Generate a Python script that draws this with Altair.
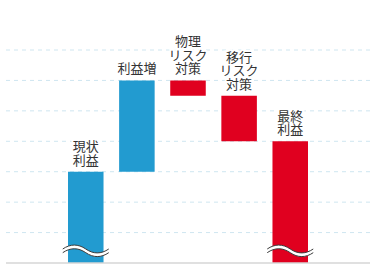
import altair as alt
import pandas as pd

# ---- data ----
labels = ["現状\n利益", "利益増", "物理\nリスク\n対策", "移行\nリスク\n対策", "最終\n利益"]
starts = [0, 3, 6, 5.5, 0]
ends = [3, 6, 5.5, 4, 4]
kinds = ["利益", "利益", "対策", "対策", "対策"]
has_break = [True, False, False, False, True]
break_at = 0.4
grid_values = [1, 2, 3, 4, 5, 6, 7]

df = pd.DataFrame({
    "cat": labels,
    "start": starts,
    "end": ends,
    "top": [max(a, b) for a, b in zip(starts, ends)],
    "kind": kinds,
    "brk": has_break,
    "nlines": [lab.count("\n") + 1 for lab in labels],
})
df["brk_y"] = break_at

FONT = "Noto Sans CJK JP"
TEXT_COLOR = "#333333"
LH = 13.5

x_enc = alt.X(
    "cat:N",
    sort=labels,
    scale=alt.Scale(range=[62, 302], paddingInner=0.305, paddingOuter=0),
    axis=None,
)
x_plain = alt.X("cat:N", sort=labels)
y_scale = alt.Scale(domain=[0, 7], nice=False, zero=True)

base = alt.Chart(df)

grid = alt.Chart(pd.DataFrame({"g": grid_values})).mark_rule(
    color="#cfe6f0", strokeWidth=1, strokeDash=[4, 4]
).encode(y=alt.Y("g:Q", scale=y_scale, axis=None), x=alt.value(0), x2=alt.value(364))

bars = base.mark_bar().encode(
    x=x_enc,
    y=alt.Y("start:Q", scale=y_scale, axis=None),
    y2="end:Q",
    color=alt.Color("kind:N",
                    scale=alt.Scale(domain=["利益", "対策"], range=["#229bd0", "#e0001f"]),
                    legend=None),
)

baseline = alt.Chart(pd.DataFrame({"v": [0]})).mark_rule(
    color="#d6d6d6", strokeWidth=1.5
).encode(y="v:Q", x=alt.value(0), x2=alt.value(364))

text_layers = []
for n in (1, 2, 3):
    dy = -4 - (n - 1) * LH
    sub = base.transform_filter(f"datum.nlines == {n}")
    text_layers.append(sub.mark_text(
        font=FONT, fontSize=13, lineBreak="\n", lineHeight=LH, baseline="bottom",
        dy=dy, fill="white", stroke="white", strokeWidth=4,
    ).encode(x=x_plain, y="top:Q", text="cat:N"))
    text_layers.append(sub.mark_text(
        font=FONT, fontSize=13, lineBreak="\n", lineHeight=LH, baseline="bottom",
        dy=dy, color=TEXT_COLOR,
    ).encode(x=x_plain, y="top:Q", text="cat:N"))

fill_path = ("M -1 -0.08 C -0.67 -0.307 -0.33 -0.307 0 -0.08 C 0.33 0.147 0.67 0.147 1 -0.08 "
             "L 1 0.08 C 0.67 0.307 0.33 0.307 0 0.08 C -0.33 -0.147 -0.67 -0.147 -1 0.08 Z")
line_path = ("M -1 -0.08 C -0.67 -0.307 -0.33 -0.307 0 -0.08 C 0.33 0.147 0.67 0.147 1 -0.08 "
             "M -1 0.08 C -0.67 -0.147 -0.33 -0.147 0 0.08 C 0.33 0.307 0.67 0.307 1 0.08")

brk_fill = base.transform_filter("datum.brk").mark_point(
    shape=fill_path, size=2116, filled=True, fill="white", opacity=1, strokeWidth=0,
).encode(x=x_plain, y="brk_y:Q")

brk_line = base.transform_filter("datum.brk").mark_point(
    shape=line_path, size=2116, filled=False, stroke="#3a3a3a", strokeWidth=1, opacity=1,
).encode(x=x_plain, y="brk_y:Q")

chart = alt.layer(grid, bars, baseline, brk_fill, brk_line, *text_layers).properties(
    width=364, height=213,
    autosize=alt.AutoSizeParams(type="none"),
    padding={"left": 6, "top": 50, "right": 6, "bottom": 9},
    background="white",
).configure_view(stroke=None)

chart.save("out.html", embed_options={"renderer": "svg", "actions": False})
